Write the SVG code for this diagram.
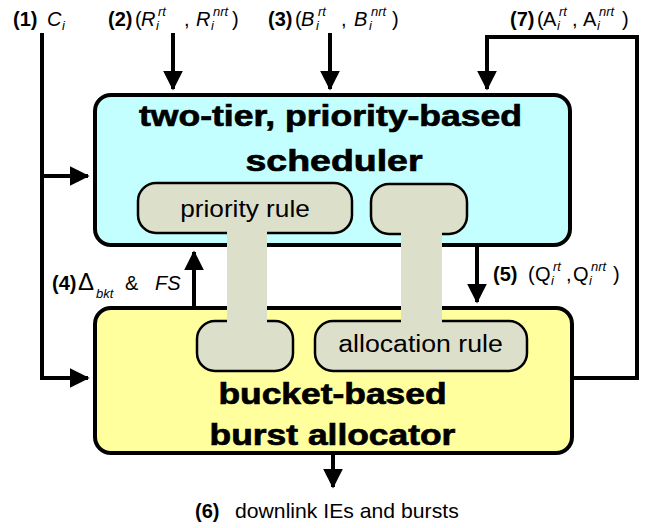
<svg xmlns="http://www.w3.org/2000/svg" width="659" height="528" viewBox="0 0 659 528">
<defs>
<marker id="ah" markerWidth="5" markerHeight="5" refX="4.6" refY="2.5" orient="auto" markerUnits="strokeWidth"><path d="M0,0 L5,2.5 L0,5 Z" fill="#000"/></marker>
<style>
.ln{fill:none;stroke:#000;stroke-width:4}
.lb{font-family:"Liberation Sans",Arial,sans-serif;font-size:20px;fill:#000}
.b{font-weight:bold}
.i{font-style:italic}
.s{font-size:13px;font-style:italic}
.big{font-family:"Liberation Sans",Arial,sans-serif;font-size:30px;font-weight:bold;fill:#000;stroke:#000;stroke-width:0.7;text-anchor:middle}
.rule{fill:#dcdfca;stroke:#000;stroke-width:2.5}
.stem{fill:#dcdfca}
.rt{font-family:"Liberation Sans",Arial,sans-serif;font-size:23px;fill:#000;text-anchor:middle}
</style>
</defs>
<g id="connectors">
<path class="ln" d="M42,33 V378 H88" marker-end="url(#ah)"/>
<path class="ln" d="M42,176 H88" marker-end="url(#ah)"/>
<path class="ln" d="M173,33 V89" marker-end="url(#ah)"/>
<path class="ln" d="M330,33 V89" marker-end="url(#ah)"/>
<path class="ln" d="M572,378 H637 V37 H487 V89" marker-end="url(#ah)"/>
<path class="ln" d="M194,307 V252" marker-end="url(#ah)"/>
<path class="ln" d="M477,246 V302" marker-end="url(#ah)"/>
<path class="ln" d="M333,453 V487" marker-end="url(#ah)"/>
</g>
<g id="scheduler">
<rect x="95" y="95" width="475" height="150" rx="16" fill="#c3ffff" stroke="#000" stroke-width="4"/>
<text class="big" transform="translate(330.5,126) scale(1.185,1)">two-tier, priority-based</text>
<text class="big" transform="translate(334,171) scale(1.25,1)">scheduler</text>
</g>
<g id="allocator">
<rect x="95" y="308" width="477" height="145" rx="16" fill="#ffff9d" stroke="#000" stroke-width="4"/>
<text class="big" transform="translate(332.5,404) scale(1.18,1)">bucket-based</text>
<text class="big" transform="translate(332.5,445) scale(1.18,1)">burst allocator</text>
</g>
<g id="priority-rule">
<rect class="rule" x="138" y="183" width="214" height="50" rx="18"/>
<rect class="rule" x="197" y="321" width="96" height="50" rx="18"/>
<rect class="stem" x="227" y="230" width="40" height="94"/>
<text class="rt" transform="translate(245,217) scale(1.14,1)">priority rule</text>
</g>
<g id="allocation-rule">
<rect class="rule" x="371" y="184" width="96" height="50" rx="18"/>
<rect class="rule" x="315" y="321" width="212" height="50" rx="18"/>
<rect class="stem" x="401" y="230" width="41" height="94"/>
<text class="rt" transform="translate(420.5,352) scale(1.16,1)">allocation rule</text>
</g>
<g id="labels">
<text class="lb" y="26"><tspan class="b" x="13">(1)</tspan><tspan class="i" x="47">C</tspan><tspan class="s" x="62" y="30">i</tspan></text>
<text class="lb" y="26"><tspan class="b" x="108">(2)</tspan><tspan x="135">(</tspan><tspan class="i" x="141">R</tspan><tspan class="s" x="156" y="30">i</tspan><tspan class="s" x="158" y="16">rt</tspan><tspan x="184" y="26">,</tspan><tspan class="i" x="196">R</tspan><tspan class="s" x="211" y="30">i</tspan><tspan class="s" x="213" y="16">nrt</tspan><tspan x="232" y="26">)</tspan></text>
<text class="lb" y="26"><tspan class="b" x="268">(3)</tspan><tspan x="295">(</tspan><tspan class="i" x="301">B</tspan><tspan class="s" x="316" y="30">i</tspan><tspan class="s" x="318" y="16">rt</tspan><tspan x="341" y="26">,</tspan><tspan class="i" x="354">B</tspan><tspan class="s" x="369" y="30">i</tspan><tspan class="s" x="371" y="16">nrt</tspan><tspan x="392" y="26">)</tspan></text>
<text class="lb" y="26"><tspan class="b" x="510">(7)</tspan><tspan x="537">(</tspan><tspan x="543">A</tspan><tspan class="s" x="557" y="30">i</tspan><tspan class="s" x="559" y="16">rt</tspan><tspan x="572" y="26">,</tspan><tspan x="583">A</tspan><tspan class="s" x="597" y="30">i</tspan><tspan class="s" x="599" y="16">nrt</tspan><tspan x="622" y="26">)</tspan></text>
<text class="lb" y="290"><tspan class="b" x="52">(4)</tspan><tspan x="78" font-size="24">Δ</tspan><tspan class="s" font-size="14" x="96" y="298">bkt</tspan><tspan x="125" y="290">&amp;</tspan><tspan class="i" x="155">FS</tspan></text>
<text class="lb" y="281"><tspan class="b" x="493">(5)</tspan><tspan x="528">(</tspan><tspan x="535">Q</tspan><tspan class="s" x="551" y="285">i</tspan><tspan class="s" x="553" y="271">rt</tspan><tspan x="566" y="281">,</tspan><tspan x="573">Q</tspan><tspan class="s" x="589" y="285">i</tspan><tspan class="s" x="591" y="271">nrt</tspan><tspan x="613" y="281">)</tspan></text>
<text class="lb b" x="195" y="518">(6)</text>
<text class="lb" font-size="21" transform="translate(235,518) scale(1.06,1)">downlink IEs and bursts</text>
</g>
</svg>
